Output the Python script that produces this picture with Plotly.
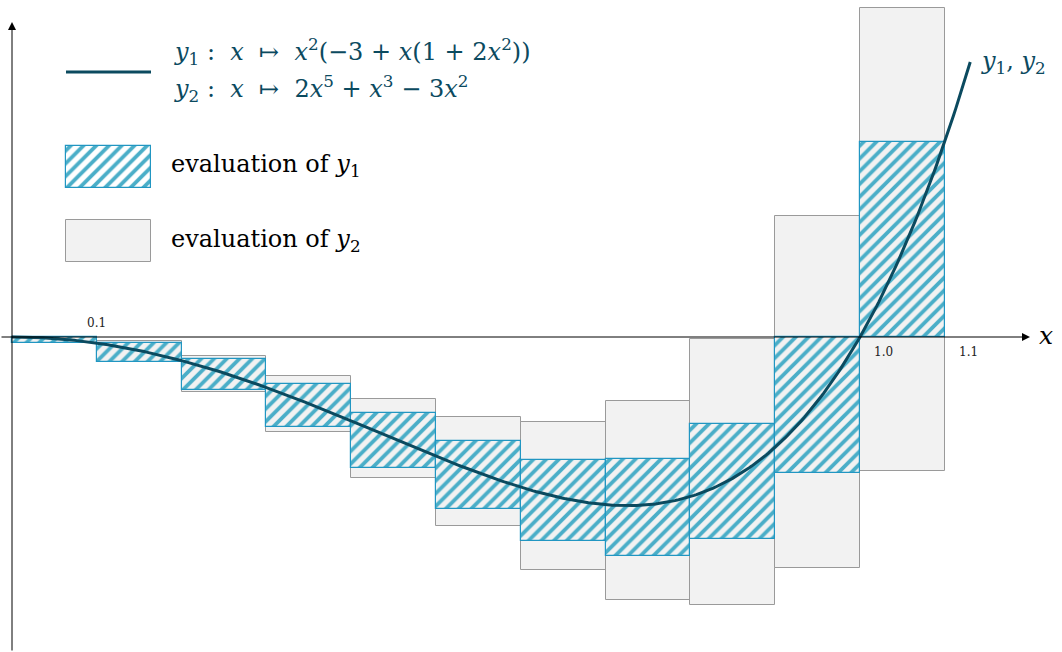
import numpy as np
import plotly.graph_objects as go

# Interval bounds: each interval [x_lo, x_lo + 0.1] on the x axis
x_lo = [0.0, 0.1, 0.2, 0.3, 0.4, 0.5, 0.6, 0.7, 0.8, 0.9, 1.0]
width = 0.1

# Interval evaluation of y1 : x -> x^2(-3 + x(1 + 2x^2))
y1_low = [-0.030, -0.116, -0.251, -0.423, -0.618, -0.810, -0.964, -1.033, -0.953, -0.642, 0.000]
y1_high = [0.000, -0.028, -0.106, -0.222, -0.360, -0.492, -0.581, -0.576, -0.411, 0.000, 0.922]

# Interval evaluation of y2 : x -> 2x^5 + x^3 - 3x^2
y2_low = [-0.030, -0.119, -0.261, -0.448, -0.666, -0.893, -1.098, -1.241, -1.263, -1.090, -0.630]
y2_high = [0.001, -0.021, -0.088, -0.186, -0.293, -0.378, -0.401, -0.303, -0.009, 0.570, 1.552]

# Tick labels shown along the x axis
tick_top = [0.1]
tick_bottom = [1.0, 1.1]

# Polynomial coefficients of y2 (highest degree first): 2x^5 + x^3 - 3x^2
coeffs = [2, 0, 1, -3, 0, 0]
x_curve = np.linspace(0.0, 1.13, 400)
y_curve = np.polyval(coeffs, x_curve)

W, H = 1062, 652
# plot geometry: origin pixel and scale
ox, oy = 12, 337
sx, sy = 848, 212
x_range = [-ox / sx, (W - ox) / sx]
y_range = [-(H - oy) / sy, oy / sy]

CURVE = "#0b4a5f"
HATCH_LINE = "#2196c2"
HATCH_FG = "#4aaec8"
GREY_FILL = "#f2f2f2"
GREY_LINE = "#9a9a9a"
SERIF = "DejaVu Serif, serif"

centers = [a + width / 2 for a in x_lo]

fig = go.Figure()

fig.add_trace(go.Bar(
    x=centers, y=[h - l for l, h in zip(y2_low, y2_high)], base=y2_low,
    width=width, marker=dict(color=GREY_FILL, line=dict(color=GREY_LINE, width=1)),
    showlegend=False, hoverinfo="skip"))

fig.add_trace(go.Bar(
    x=centers, y=[h - l for l, h in zip(y1_low, y1_high)], base=y1_low,
    width=width,
    marker=dict(color=GREY_FILL, line=dict(color=HATCH_LINE, width=1.2),
                pattern=dict(shape="/", size=9, solidity=0.42, fgcolor=HATCH_FG,
                             bgcolor=GREY_FILL, fillmode="replace")),
    showlegend=False, hoverinfo="skip"))

fig.add_trace(go.Scatter(
    x=x_curve, y=y_curve, mode="lines", line=dict(color=CURVE, width=3),
    showlegend=False, hoverinfo="skip"))

# Key swatches drawn on a pixel-based overlay axis (y grows downward)
fig.add_trace(go.Bar(
    x=[108.5], y=[42], base=[146], width=[85], xaxis="x2", yaxis="y2",
    marker=dict(color="white", line=dict(color=HATCH_LINE, width=1.2),
                pattern=dict(shape="/", size=9, solidity=0.42, fgcolor=HATCH_FG,
                             bgcolor="white", fillmode="replace")),
    showlegend=False, hoverinfo="skip"))
fig.add_trace(go.Bar(
    x=[108.5], y=[42], base=[220], width=[85], xaxis="x2", yaxis="y2",
    marker=dict(color=GREY_FILL, line=dict(color=GREY_LINE, width=1)),
    showlegend=False, hoverinfo="skip"))
fig.add_trace(go.Scatter(
    x=[66, 151], y=[72, 72], mode="lines", xaxis="x2", yaxis="y2",
    line=dict(color=CURVE, width=3), showlegend=False, hoverinfo="skip"))

annotations = []
# axes with arrow heads
annotations.append(dict(x=(1030 - ox) / sx, y=0, ax=x_range[0], ay=0,
                        xref="x", yref="y", axref="x", ayref="y", text="",
                        showarrow=True, arrowhead=2, arrowsize=1.6, arrowwidth=1,
                        arrowcolor="black"))
annotations.append(dict(x=0, y=(oy - 22) / sy, ax=0, ay=y_range[0],
                        xref="x", yref="y", axref="x", ayref="y", text="",
                        showarrow=True, arrowhead=2, arrowsize=1.6, arrowwidth=1,
                        arrowcolor="black"))
annotations.append(dict(x=(1037 - ox) / sx, y=0, xref="x", yref="y", text="<i>x</i>",
                        showarrow=False, xanchor="left", yanchor="middle", yshift=2,
                        font=dict(family=SERIF, size=25, color="black")))
for t in tick_top:
    annotations.append(dict(x=t, y=0, xref="x", yref="y", text=f"{t:.1f}",
                            showarrow=False, xanchor="center", yanchor="bottom", yshift=5,
                            font=dict(family="DejaVu Serif", size=12, color="#222")))
for t in tick_bottom:
    annotations.append(dict(x=t, y=0, xref="x", yref="y", text=f"{t:.1f}",
                            showarrow=False, xanchor="left", yanchor="top", xshift=12, yshift=-6,
                            font=dict(family="DejaVu Serif", size=12, color="#222")))
annotations.append(dict(x=x_curve[-1], y=y_curve[-1], xref="x", yref="y",
                        text="<i>y</i><sub>1</sub>, <i>y</i><sub>2</sub>",
                        showarrow=False, xanchor="left", yanchor="middle", xshift=9,
                        font=dict(family=SERIF, size=24, color=CURVE)))

# key texts
annotations.append(dict(x=172 / W, y=1 - 52 / H, xref="paper", yref="paper",
                        text="<i>y</i><sub>1</sub> :  <i>x</i>  ↦  <i>x</i><sup>2</sup>(−3 + <i>x</i>(1 + 2<i>x</i><sup>2</sup>))",
                        showarrow=False, xanchor="left", yanchor="middle",
                        font=dict(family=SERIF, size=24, color=CURVE)))
annotations.append(dict(x=172 / W, y=1 - 88 / H, xref="paper", yref="paper",
                        text="<i>y</i><sub>2</sub> :  <i>x</i>  ↦  2<i>x</i><sup>5</sup> + <i>x</i><sup>3</sup> − 3<i>x</i><sup>2</sup>",
                        showarrow=False, xanchor="left", yanchor="middle",
                        font=dict(family=SERIF, size=24, color=CURVE)))
annotations.append(dict(x=169 / W, y=1 - 166 / H, xref="paper", yref="paper",
                        text="evaluation of <i>y</i><sub>1</sub>",
                        showarrow=False, xanchor="left", yanchor="middle",
                        font=dict(family=SERIF, size=24, color="black")))
annotations.append(dict(x=169 / W, y=1 - 241 / H, xref="paper", yref="paper",
                        text="evaluation of <i>y</i><sub>2</sub>",
                        showarrow=False, xanchor="left", yanchor="middle",
                        font=dict(family=SERIF, size=24, color="black")))

fig.update_layout(
    width=W, height=H, margin=dict(l=0, r=0, t=0, b=0),
    paper_bgcolor="white", plot_bgcolor="white",
    barmode="overlay", bargap=0,
    xaxis=dict(range=x_range, visible=False, fixedrange=True),
    yaxis=dict(range=y_range, visible=False, fixedrange=True),
    xaxis2=dict(range=[0, W], visible=False, overlaying="x", anchor="y2"),
    yaxis2=dict(range=[H, 0], visible=False, overlaying="y", anchor="x2"),
    annotations=annotations,
)

fig.write_html("out.html")
